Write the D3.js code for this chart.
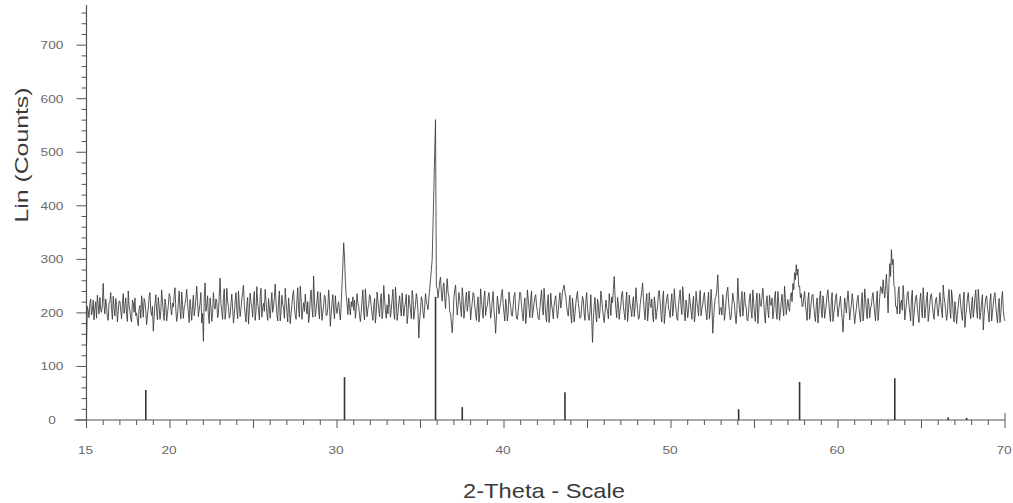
<!DOCTYPE html>
<html>
<head>
<meta charset="utf-8">
<script src="https://cdn.jsdelivr.net/npm/d3@7"></script>
<style>
  body { margin: 0; background: #fff; }
  svg { display: block; }
  text { font-family: "Liberation Sans", Arial, sans-serif; }
</style>
</head>
<body>
<svg id="chart" width="1013" height="503"></svg>
<script>
// Scan definition: 2-theta from 15.00 deg in 0.05 deg steps
const scanStart = 15.0;
const scanStep = 0.05;

// Measured intensity (counts), one row per degree (x.00 .. x.95)
const counts = [
  140,212,205,191,218,226,196,204,224,187, 208,221,190,233,215,198,229,206,201,217, // 15
  255,214,198,226,212,193,186,219,220,238, 207,188,231,210,194,227,216,183,203,222, // 16
  222,205,189,216,236,199,210,228,197,184, 241,213,205,190,183,224,219,201,228,195, // 17
  200,186,176,208,214,190,232,215,192,227, 221,204,178,196,209,231,238,204,195,212, // 18
  166,193,217,234,204,187,229,212,188,203, 243,222,201,186,226,214,185,199,214,236, // 19
  232,207,196,218,211,233,247,205,184,196, 220,241,205,189,239,216,190,210,216,228, // 20
  244,219,200,182,225,207,186,214,233,195, 208,226,250,221,193,206,218,238,181,199, // 21
  147,228,256,203,213,232,195,180,228,211, 184,199,238,214,207,226,222,191,199,231, // 22
  265,218,203,188,229,245,188,204,246,221, 212,190,196,217,235,209,181,196,220,238, // 23
  207,189,241,215,193,207,226,238,252,214, 198,183,215,229,179,204,237,219,210,192, // 24
  224,240,186,203,249,218,205,187,231,246, 192,210,218,203,244,221,200,186,227,209, // 25
  190,215,238,201,212,229,254,220,197,185, 222,241,185,203,233,216,209,190,246,222, // 26
  201,183,228,207,180,199,216,234,242,211, 195,188,224,247,206,192,250,226,188,205, // 27
  219,203,235,214,198,221,182,196,227,243, 210,192,269,225,193,207,222,240,204,189, // 28
  238,214,186,201,214,233,229,195,196,210, 243,220,175,198,218,234,205,189,232,210, // 29
  199,213,221,202,187,215,252,289,331,305, 260,232,218,197,228,210,196,221,212,230, // 30
  205,224,190,207,236,218,212,195,184,201, 224,243,201,187,245,219,193,208,216,234, // 31
  230,211,198,186,213,227,181,200,239,222, 207,193,222,236,189,204,251,226,204,190, // 32
  215,198,235,219,192,206,226,244,203,188, 248,223,186,199,219,232,210,194,237,216, // 33
  194,210,221,235,180,197,233,218,206,189, 242,227,188,203,215,236,226,201,153,188, // 34
  205,230,224,202,190,211,236,221,215,206, 228,245,262,281,300,365,430,500,561,250, // 35
  245,228,242,259,267,236,222,247,256,229, 208,241,264,238,231,202,199,181,163,190, // 36
  229,243,252,221,196,214,238,225,210,193, 247,228,190,206,225,239,203,217,241,222, // 37
  187,205,220,238,234,212,199,186,216,230, 183,198,245,223,207,190,228,241,195,209, // 38
  213,229,238,216,190,204,224,240,205,187, 162,196,231,219,198,210,219,236,244,217, // 39
  200,185,226,213,185,199,239,222,212,196, 194,215,232,238,207,190,188,204,221,239, // 40
  236,214,197,185,215,228,180,196,243,226, 209,191,226,241,191,205,218,230,234,212, // 41
  203,190,187,209,228,243,210,196,246,220, 195,183,220,234,182,199,237,215,206,189, // 42
  214,225,232,208,190,203,225,238,209,221, 238,246,252,239,230,212,201,194,219,233, // 43
  196,181,228,210,183,199,217,232,240,218, 205,190,192,213,231,224,199,186,222,238, // 44
  210,194,186,202,234,192,145,188,214,229, 197,183,226,215,190,205,241,227,208,193, // 45
  182,201,224,210,203,189,236,218,195,230, 219,244,268,232,207,191,229,215,188,205, // 46
  215,236,240,212,199,187,222,239,184,201, 233,216,206,193,218,230,193,211,247,224, // 47
  205,188,191,214,228,241,256,225,202,187, 219,236,185,203,238,214,210,226,196,183, // 48
  230,217,188,201,214,237,242,220,197,183, 225,241,180,199,216,228,235,209,203,191, // 49
  220,236,194,209,245,221,207,190,186,214, 230,243,212,197,249,226,198,185,224,212, // 50
  191,205,236,219,204,188,218,231,183,196, 240,222,209,194,227,242,195,208,215,229, // 51
  238,214,200,187,222,239,189,206,244,218, 162,190,213,228,231,245,271,233,197,209, // 52
  210,196,234,218,186,201,225,240,248,219, 203,187,192,215,237,224,216,194,180,207, // 53
  265,228,207,193,223,240,194,210,239,217, 211,188,185,204,229,236,202,190,243,220, // 54
  198,184,221,237,180,199,236,214,212,229, 246,223,195,181,218,232,205,191,233,216, // 55
  214,228,189,203,227,240,202,188,240,219, 186,201,221,235,209,194,250,227,197,212, // 56
  225,210,203,229,238,221,255,243,275,262, 290,270,282,249,250,228,236,212,212,229, // 57
  240,215,201,186,226,238,188,205,219,233, 235,211,196,184,214,228,181,199,228,241, // 58
  205,191,232,217,190,203,217,235,243,219, 198,184,224,238,184,200,211,227,236,213, // 59
  193,208,219,231,206,189,164,197,228,214, 200,222,241,218,187,203,215,236,222,199, // 60
  180,196,209,225,233,210,196,183,220,238, 185,202,245,227,204,189,227,216,191,209, // 61
  214,230,238,216,199,185,222,241,186,205, 230,249,245,236,262,243,228,251,272,239, // 62
  200,255,292,268,318,290,300,251,248,212, 212,198,236,249,198,217,224,205,251,228, // 63
  187,203,219,236,240,214,201,185,228,242, 176,197,214,229,233,210,195,182,222,237, // 64
  208,191,247,223,190,207,226,239,184,198, 218,233,236,214,199,188,211,225,229,206, // 65
  194,213,238,220,205,191,252,231,219,203, 186,197,230,244,207,190,243,226,198,183, // 66
  221,205,180,197,213,229,235,214,197,186, 224,239,173,195,209,228,238,217,201,189, // 67
  215,230,192,207,229,243,206,190,244,223, 188,201,220,234,168,196,214,228,232,210, // 68
  199,183,223,236,185,201,217,232,238,214, 195,181,210,227,182,199,226,240,204,190, // 69
  185                                                                               // 70
];

// Reference pattern lines (2-theta position, height in counts)
const refAngles  = [18.55, 30.45, 35.9, 37.5, 43.65, 54.05, 57.7, 63.4, 66.6, 67.7];
const refHeights = [56, 80, 230, 24, 52, 20, 71, 78, 5, 4];

// Axis ticks
const xLabelTicks = [15, 20, 30, 40, 50, 60, 70];
const yLabelTicks = [0, 100, 200, 300, 400, 500, 600, 700];

const svg = d3.select("#chart");

const x = d3.scaleLinear().domain([15, 70]).range([86.5, 1005]);
const y = d3.scaleLinear().domain([0, 775]).range([420, 5]);

const axisColor = "#555";
const labelColor = "#6a6a6a";

// ---- y axis ----
const yAxis = svg.append("g").attr("class", "y-axis");
yAxis.append("line")
  .attr("x1", x(15)).attr("x2", x(15))
  .attr("y1", y(775)).attr("y2", y(0))
  .attr("stroke", axisColor).attr("stroke-width", 1.2);

const yMinor = d3.range(0, 776, 20);
yAxis.selectAll("line.minor").data(yMinor).join("line")
  .attr("class", "minor")
  .attr("x1", d => d % 100 === 0 ? x(15) - 10 : x(15) - 5)
  .attr("x2", x(15))
  .attr("y1", d => y(d)).attr("y2", d => y(d))
  .attr("stroke", axisColor).attr("stroke-width", 1);

yAxis.selectAll("text").data(yLabelTicks).join("text")
  .attr("x", 52)
  .attr("y", d => y(d))
  .attr("dy", "0.35em")
  .attr("text-anchor", "middle")
  .attr("font-size", 11)
  .attr("textLength", d => String(d).length * 7.6)
  .attr("lengthAdjust", "spacingAndGlyphs")
  .attr("fill", labelColor)
  .text(d => d);

// ---- x axis ----
const xAxis = svg.append("g").attr("class", "x-axis");
xAxis.append("line")
  .attr("x1", x(15) - 12).attr("x2", x(70))
  .attr("y1", y(0)).attr("y2", y(0))
  .attr("stroke", axisColor).attr("stroke-width", 1.2);

xAxis.selectAll("line.tick").data(d3.range(15, 71)).join("line")
  .attr("class", "tick")
  .attr("x1", d => x(d)).attr("x2", d => x(d))
  .attr("y1", y(0))
  .attr("y2", d => y(0) + (d % 5 === 0 ? 8 : 5))
  .attr("stroke", axisColor).attr("stroke-width", 1);

// end cap at the right end of the scan range
xAxis.append("line")
  .attr("x1", x(70)).attr("x2", x(70))
  .attr("y1", y(0) - 7).attr("y2", y(0))
  .attr("stroke", axisColor).attr("stroke-width", 1);

xAxis.selectAll("text").data(xLabelTicks).join("text")
  .attr("x", d => x(d) - 1)
  .attr("y", 450)
  .attr("dy", "0.35em")
  .attr("text-anchor", "middle")
  .attr("font-size", 11)
  .attr("textLength", d => String(d).length * 7.6)
  .attr("lengthAdjust", "spacingAndGlyphs")
  .attr("fill", labelColor)
  .text(d => d);

// ---- titles ----
svg.append("text")
  .attr("x", 544).attr("y", 498)
  .attr("text-anchor", "middle")
  .attr("font-size", 21)
  .attr("textLength", 162)
  .attr("lengthAdjust", "spacingAndGlyphs")
  .attr("fill", "#3a3a3a")
  .text("2-Theta - Scale");

svg.append("text")
  .attr("transform", "translate(28,155) rotate(-90)")
  .attr("text-anchor", "middle")
  .attr("font-size", 19)
  .attr("textLength", 135)
  .attr("lengthAdjust", "spacingAndGlyphs")
  .attr("fill", "#3a3a3a")
  .text("Lin (Counts)");

// ---- reference pattern sticks ----
const refs = refAngles.map((a, i) => ({ a, h: refHeights[i] }));
svg.append("g").selectAll("line").data(refs).join("line")
  .attr("x1", d => x(d.a)).attr("x2", d => x(d.a))
  .attr("y1", y(0)).attr("y2", d => y(d.h))
  .attr("stroke", "#333").attr("stroke-width", 1.6);

// ---- measured pattern ----
const scan = counts.map((c, i) => ({ t: scanStart + i * scanStep, c }));
const line = d3.line().x(d => x(d.t)).y(d => y(d.c));
svg.append("path")
  .datum(scan)
  .attr("d", line)
  .attr("fill", "none")
  .attr("stroke", "#383838")
  .attr("stroke-width", 0.85)
  .attr("stroke-linejoin", "miter");
</script>
</body>
</html>
